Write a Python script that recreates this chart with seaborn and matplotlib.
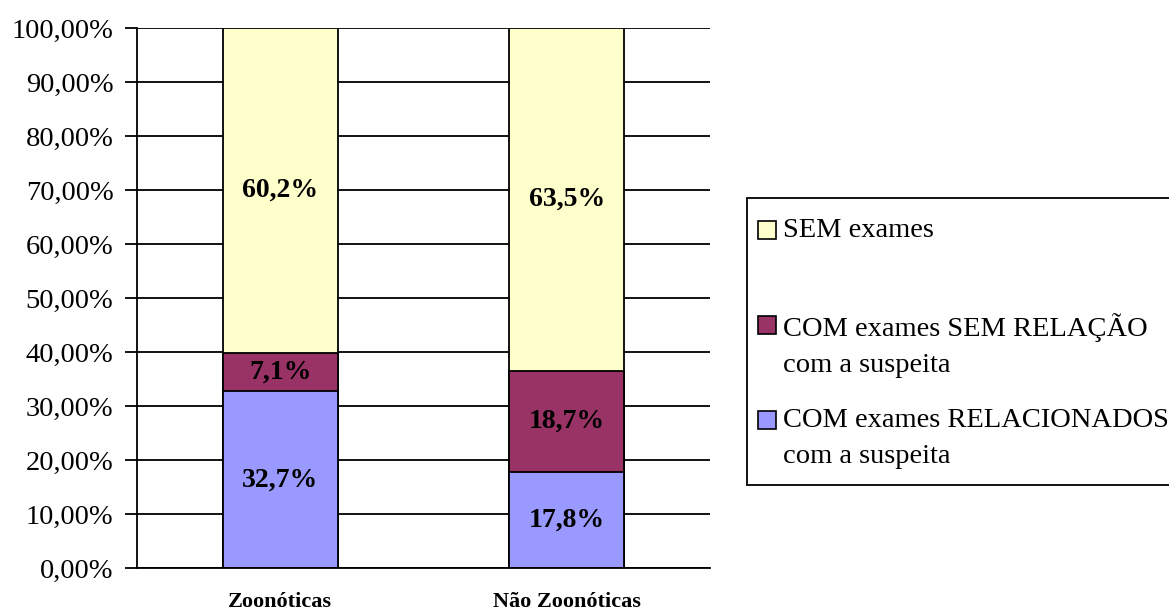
import seaborn as sns
import pandas as pd
import matplotlib.pyplot as plt
from matplotlib.patches import Rectangle

categorias = ["Zoonóticas", "Não Zoonóticas"]
relacionados = [32.7, 17.8]
sem_relacao = [7.1, 18.7]
sem_exames = [60.2, 63.5]
series = ["SEM exames", "COM exames SEM RELAÇÃO\ncom a suspeita", "COM exames RELACIONADOS\ncom a suspeita"]
cores = ["#FFFFCC", "#993366", "#9999FF"]
yticks = [0, 10, 20, 30, 40, 50, 60, 70, 80, 90, 100]

sns.set_style("white")
plt.rcParams['font.family'] = ['Liberation Serif', 'DejaVu Serif']
plt.rcParams['text.color'] = 'black'
plt.rcParams['xtick.color'] = 'black'
plt.rcParams['ytick.color'] = 'black'

df = pd.DataFrame({"cat": categorias, "rel": relacionados, "semrel": sem_relacao, "sem": sem_exames})
df["topo_semrel"] = df["rel"] + df["semrel"]
df["topo_sem"] = df["topo_semrel"] + df["sem"]

W, H = 1169, 610
fig = plt.figure(figsize=(W / 100, H / 100), dpi=100)
ax = fig.add_axes([137 / W, 1 - 568 / H, (710 - 137) / W, (568 - 28) / H])

# barras empilhadas: desenha o total e sobrepoe as partes menores
for col, cor in zip(["topo_sem", "topo_semrel", "rel"], cores):
    sns.barplot(data=df, x="cat", y=col, color=cor, width=0.4, edgecolor="black",
                linewidth=1.3, saturation=1, ax=ax, zorder=3)

# rotulos no centro de cada segmento
for i in range(len(categorias)):
    base = 0
    for v in [relacionados[i], sem_relacao[i], sem_exames[i]]:
        ax.text(i, base + v / 2, f"{v:.1f}%".replace(".", ","), ha="center", va="center",
                fontsize=20, fontweight="bold", zorder=5)
        base += v

ax.set_xlim(-0.5, len(categorias) - 0.5)
ax.set_ylim(0, 100)
ax.set_yticks(yticks)
ax.set_yticklabels([f"{t:.2f}%".replace(".", ",") for t in yticks], fontsize=20.5)
ax.set_xticks(range(len(categorias)))
ax.set_xticklabels(categorias, fontsize=16, fontweight="bold")
ax.set_xticks([-0.5, 0.5, 1.5], minor=True)
ax.tick_params(axis="x", which="major", length=0, pad=17)
ax.tick_params(axis="x", which="minor", length=9, width=1.3, direction="out", color="black")
ax.tick_params(axis="y", length=9, width=1.3, direction="out", color="black", pad=8, left=True)
ax.set_xlabel("")
ax.set_ylabel("")
ax.yaxis.grid(True, color="black", linewidth=1.3)
ax.set_axisbelow(True)
for s in ["top", "right"]:
    ax.spines[s].set_visible(False)
for s in ["left", "bottom"]:
    ax.spines[s].set_color("black")
    ax.spines[s].set_linewidth(1.3)
    ax.spines[s].set_zorder(4)

# legenda desenhada a mao (caixa cortada pela borda direita)
def fx(x):
    return x / W

def fy(y):
    return 1 - y / H

fig.add_artist(Rectangle((fx(747), fy(485)), fx(1220) - fx(747), fy(198) - fy(485),
                         transform=fig.transFigure, facecolor="white", edgecolor="black",
                         linewidth=1.3, clip_on=False))
ys = [230, 325, 420]
for y, lab, cor in zip(ys, series, cores):
    fig.add_artist(Rectangle((fx(758), fy(y + 9)), fx(776) - fx(758), fy(y - 9) - fy(y + 9),
                             transform=fig.transFigure, facecolor=cor, edgecolor="black",
                             linewidth=1.2))
    fig.text(fx(783), fy(y - 12), lab, ha="left", va="top", fontsize=20.5, linespacing=1.6)

fig.savefig("out.png", dpi=100)
